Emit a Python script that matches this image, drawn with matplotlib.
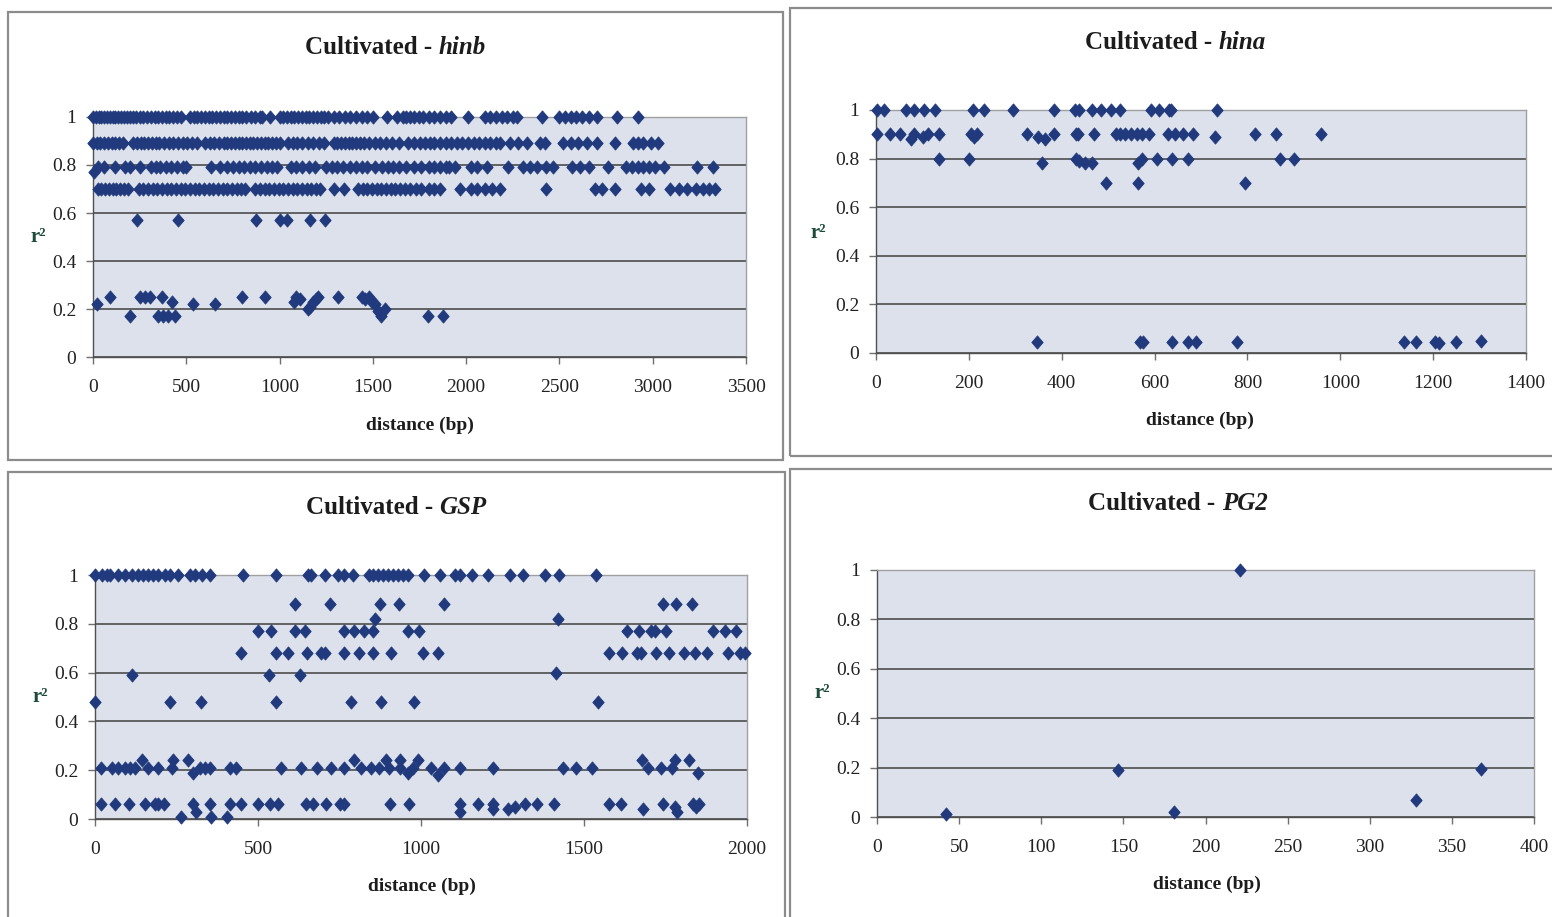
import numpy as np
import matplotlib.pyplot as plt
from matplotlib.path import Path
from matplotlib.patches import Rectangle

plt.rcParams['font.family'] = ['Liberation Serif', 'DejaVu Serif']

# ---- hinb : distance (bp) of the pairs on each r2 level ----
hinb_levels = [1.0, 0.89, 0.79, 0.70, 0.57]
hinb_x_100 = [0, 15, 30, 45, 60, 75, 90, 105, 120, 135, 150, 165, 180, 200, 215, 230, 250, 270, 290,
              310, 330, 350, 370, 390, 410, 430, 450, 470, 520, 540, 560, 580, 600, 620, 640, 660,
              680, 700, 720, 740, 760, 780, 800, 820, 845, 870, 895, 905, 950, 1002, 1020, 1040,
              1060, 1080, 1100, 1120, 1140, 1160, 1180, 1200, 1220, 1240, 1260, 1290, 1320, 1350,
              1380, 1410, 1440, 1470, 1500, 1576, 1630, 1660, 1680, 1700, 1720, 1745, 1770, 1800,
              1830, 1860, 1890, 1920, 2010, 2100, 2130, 2160, 2190, 2220, 2250, 2270, 2407, 2500,
              2530, 2560, 2590, 2620, 2660, 2700, 2809, 2921]
hinb_x_089 = [0, 20, 40, 60, 80, 100, 120, 140, 160, 215, 235, 255, 275, 295, 315, 335, 355, 380,
              405, 430, 455, 480, 505, 530, 555, 600, 625, 650, 675, 700, 720, 740, 760, 780, 800,
              820, 840, 860, 880, 900, 920, 940, 960, 980, 1000, 1045, 1070, 1095, 1120, 1150,
              1180, 1210, 1240, 1290, 1310, 1330, 1350, 1370, 1390, 1410, 1430, 1450, 1480, 1510,
              1540, 1570, 1600, 1640, 1690, 1720, 1750, 1780, 1805, 1830, 1860, 1890, 1920, 1950,
              1980, 2010, 2040, 2070, 2100, 2130, 2160, 2180, 2235, 2280, 2325, 2396, 2422, 2520,
              2560, 2600, 2650, 2700, 2798, 2895, 2920, 2950, 2990, 3030]
hinb_x_079 = [25, 60, 118, 172, 198, 252, 310, 335, 360, 390, 420, 450, 480, 500, 630, 680, 720,
              750, 780, 810, 840, 870, 900, 930, 960, 985, 1060, 1090, 1120, 1160, 1190, 1250,
              1280, 1310, 1340, 1375, 1410, 1440, 1470, 1510, 1550, 1580, 1610, 1640, 1680, 1720,
              1760, 1800, 1830, 1860, 1890, 1910, 1940, 2025, 2060, 2110, 2224, 2305, 2340, 2380,
              2430, 2465, 2570, 2610, 2660, 2760, 2855, 2890, 2920, 2950, 2980, 3010, 3060, 3237,
              3323]
hinb_x_070 = [25, 45, 65, 85, 105, 125, 145, 165, 185, 245, 270, 295, 320, 345, 370, 395, 420, 445,
              470, 495, 520, 545, 570, 595, 620, 645, 670, 695, 720, 745, 770, 795, 815, 870, 895,
              920, 945, 970, 995, 1020, 1045, 1070, 1095, 1120, 1145, 1170, 1195, 1215, 1290, 1345,
              1420, 1445, 1470, 1495, 1520, 1545, 1570, 1595, 1620, 1645, 1670, 1700, 1730, 1760,
              1800, 1830, 1860, 1967, 2025, 2060, 2100, 2140, 2180, 2428, 2690, 2730, 2800, 2935,
              2980, 3095, 3140, 3185, 3230, 3270, 3300, 3335]
hinb_x_057 = [236, 456, 874, 1002, 1040, 1163, 1243]
hinb_rows = [hinb_x_100, hinb_x_089, hinb_x_079, hinb_x_070, hinb_x_057]
hinb_odd_x = [5, 20, 91, 198, 252, 280, 305, 370, 423, 350, 375, 400, 440, 536, 654, 800, 922,
              1075, 1090, 1109, 1152, 1165, 1180, 1195, 1206, 1313, 1442, 1460, 1478, 1495, 1511,
              1527, 1545, 1565, 1796, 1876]
hinb_odd_y = [0.77, 0.22, 0.25, 0.17, 0.25, 0.25, 0.25, 0.25, 0.23, 0.17, 0.17, 0.17, 0.17, 0.22,
              0.22, 0.25, 0.25, 0.23, 0.25, 0.24, 0.20, 0.21, 0.23, 0.24, 0.25, 0.25, 0.25, 0.24,
              0.25, 0.23, 0.22, 0.19, 0.17, 0.20, 0.17, 0.17]

# ---- hina ----
hina_x = [3, 17, 64, 82, 104, 126, 208, 232, 294, 383, 428, 437, 465, 484, 507, 526, 593, 610, 631,
          636, 734,
          3, 31, 51, 76, 82, 101, 113, 136, 204, 210, 217, 325, 348, 363, 383, 430, 436, 470, 517,
          526, 537, 549, 563, 572, 587, 629, 643, 662, 683, 730, 816, 861, 958,
          136, 201, 358, 430, 437, 451, 465, 564, 573, 606, 638, 673, 870, 900,
          496, 564, 794,
          346, 568, 575, 638, 671, 690, 777, 1138, 1162, 1204, 1213, 1249, 1304]
hina_y = [1.0] * 21 + \
         [0.9, 0.9, 0.9, 0.88, 0.9, 0.89, 0.9, 0.9, 0.9, 0.89, 0.9, 0.9, 0.89, 0.88, 0.9, 0.9,
          0.9, 0.9, 0.9, 0.9, 0.9, 0.9, 0.9, 0.9, 0.9, 0.9, 0.9, 0.9, 0.9, 0.89, 0.9, 0.9, 0.9] + \
         [0.8, 0.8, 0.78, 0.8, 0.79, 0.78, 0.78, 0.78, 0.8, 0.8, 0.8, 0.8, 0.8, 0.8] + \
         [0.7, 0.7, 0.7] + \
         [0.045, 0.045, 0.045, 0.045, 0.045, 0.045, 0.045, 0.045, 0.045, 0.045, 0.04, 0.045, 0.05]

# ---- GSP ----
gsp_x = [0, 20, 36, 46, 71, 92, 112, 133, 148, 163, 179, 194, 214, 230, 255, 291, 306, 327, 352,
         454, 556, 653, 663, 704, 745, 765, 791, 842, 852, 867, 883, 898, 913, 929, 944, 959, 1010,
         1057, 1103, 1119, 1155, 1206, 1273, 1314, 1381, 1423, 1538,
         612, 721, 874, 931, 1070, 1742, 1781, 1832,
         860, 1421,
         500, 539, 612, 643, 763, 796, 824, 852, 959, 995, 1631, 1670, 1706, 1719, 1753, 1895,
         1933, 1967,
         447, 556, 592, 651, 694, 706, 765, 811, 852, 908, 1005, 1052, 1577, 1616, 1662, 1675,
         1720, 1761, 1808, 1840, 1876, 1943, 1977, 1995,
         114, 533, 628, 1414,
         0, 230, 324, 554, 786, 878, 978, 1543,
         18, 51, 71, 92, 107, 122, 163, 194, 235, 321, 337, 352, 413, 434, 571, 631, 682, 724,
         765, 816, 847, 872, 903, 936, 974, 1031, 1072, 1119, 1222, 1435, 1476, 1526, 1696, 1737,
         1770,
         143, 240, 284, 796, 893, 936, 990, 1678, 1778, 1822,
         301, 959, 1052, 1851,
         18, 61, 104, 153, 184, 194, 212, 301, 352, 413, 449, 500, 536, 561, 648, 668, 709, 750,
         765, 906, 964, 1119, 1175, 1222, 1318, 1356, 1407, 1577, 1613, 1742, 1835, 1853,
         263, 311, 357, 406, 1119, 1222, 1268, 1289, 1680, 1778, 1784, 1845]
gsp_y = [1.0] * 47 + [0.88] * 8 + [0.82, 0.82] + [0.77] * 18 + [0.68] * 24 + \
        [0.59, 0.59, 0.59, 0.6] + [0.48] * 8 + [0.21] * 35 + [0.24] * 10 + \
        [0.19, 0.19, 0.18, 0.19] + [0.06] * 32 + \
        [0.01, 0.03, 0.01, 0.01, 0.03, 0.04, 0.04, 0.05, 0.04, 0.05, 0.03, 0.05]

# ---- PG2 ----
pg2_x = [42, 147, 181, 221, 328, 368]
pg2_y = [0.012, 0.19, 0.02, 1.0, 0.07, 0.195]

y_ticks = [0, 0.2, 0.4, 0.6, 0.8, 1]
y_tick_labels = ['0', '0.2', '0.4', '0.6', '0.8', '1']

W, H = 1552, 917
NAVY = '#213a7d'
diamond = Path([(0, 1), (0.86, 0), (0, -1), (-0.86, 0), (0, 1)],
               [Path.MOVETO, Path.LINETO, Path.LINETO, Path.LINETO, Path.CLOSEPOLY])

fig = plt.figure(figsize=(W / 100, H / 100), dpi=100)
renderer = fig.canvas.get_renderer()


def px_rect(x0, y0, x1, y1):
    return [x0 / W, 1 - y1 / H, (x1 - x0) / W, (y1 - y0) / H]


def title(cx, cy, gene):
    # "Cultivated - " upright, gene name in italics, centred together
    kw = dict(va='baseline', fontsize=18, fontweight='bold', color='#1c1c1c')
    t1 = fig.text(0, 0, 'Cultivated - ', ha='left', **kw)
    t2 = fig.text(0, 0, gene, ha='left', style='italic', **kw)
    w1 = t1.get_window_extent(renderer).width
    w2 = t2.get_window_extent(renderer).width
    x0 = cx - (w1 + w2) / 2
    yb = H - cy - 6
    t1.set_position((x0 / W, yb / H))
    t2.set_position(((x0 + w1) / W, yb / H))


def panel(plot_px, box_px, gene, x, y, xmax, xstep, title_px, xlabel_px, r2_px):
    b = px_rect(*box_px)
    fig.add_artist(Rectangle((b[0], b[1]), b[2], b[3], transform=fig.transFigure,
                             fill=False, ec='#8c8c8c', lw=1.6))
    ax = fig.add_axes(px_rect(*plot_px))
    ax.set_facecolor('#dce1eb')
    ax.plot(x, y, ls='none', marker=diamond, ms=9.5, color=NAVY, mec=NAVY, mew=0.6,
            clip_on=False, zorder=3)
    ax.set_xlim(0, xmax)
    ax.set_ylim(0, 1)
    ax.set_xticks(np.arange(0, xmax + 1, xstep))
    ax.set_yticks(y_ticks)
    ax.set_yticklabels(y_tick_labels)
    ax.yaxis.grid(True, color='#4d4d4d', lw=1.2)
    ax.set_axisbelow(True)
    for s in ax.spines.values():
        s.set_color('#a0a0a0')
        s.set_linewidth(1.0)
    ax.spines['left'].set_color('#505050')
    ax.spines['bottom'].set_color('#505050')
    ax.tick_params(direction='out', length=5, width=1, color='#707070',
                   labelsize=14, labelcolor='#222222')
    ax.tick_params(axis='x', pad=11)
    ax.tick_params(axis='y', pad=7)
    title(title_px[0], title_px[1], gene)
    fig.text(xlabel_px[0] / W, 1 - xlabel_px[1] / H, 'distance (bp)', ha='center',
             va='center', fontsize=14, fontweight='bold', color='#1c1c1c')
    fig.text(r2_px[0] / W, 1 - r2_px[1] / H, 'r²', ha='center', va='center',
             fontsize=15, fontweight='bold', color='#1d4b3b')
    return ax


hinb_x = [v for row in hinb_rows for v in row] + hinb_odd_x
hinb_y = [lev for lev, row in zip(hinb_levels, hinb_rows) for _ in row] + hinb_odd_y

panel((93, 117, 746, 357), (8, 12, 783, 460), 'hinb', hinb_x, hinb_y, 3500, 500,
      (395, 48), (420, 425), (38, 237))
panel((876, 110, 1526, 353), (790, 8, 1560, 456), 'hina', hina_x, hina_y, 1400, 200,
      (1175, 43), (1200, 420), (818, 233))
panel((95, 575, 747, 819), (8, 472, 785, 925), 'GSP', gsp_x, gsp_y, 2000, 500,
      (396, 508), (422, 886), (40, 697))
panel((877, 570, 1534, 817), (790, 469, 1560, 925), 'PG2', pg2_x, pg2_y, 400, 50,
      (1178, 504), (1207, 884), (822, 693))

fig.savefig('out.png', dpi=100, facecolor='white')
